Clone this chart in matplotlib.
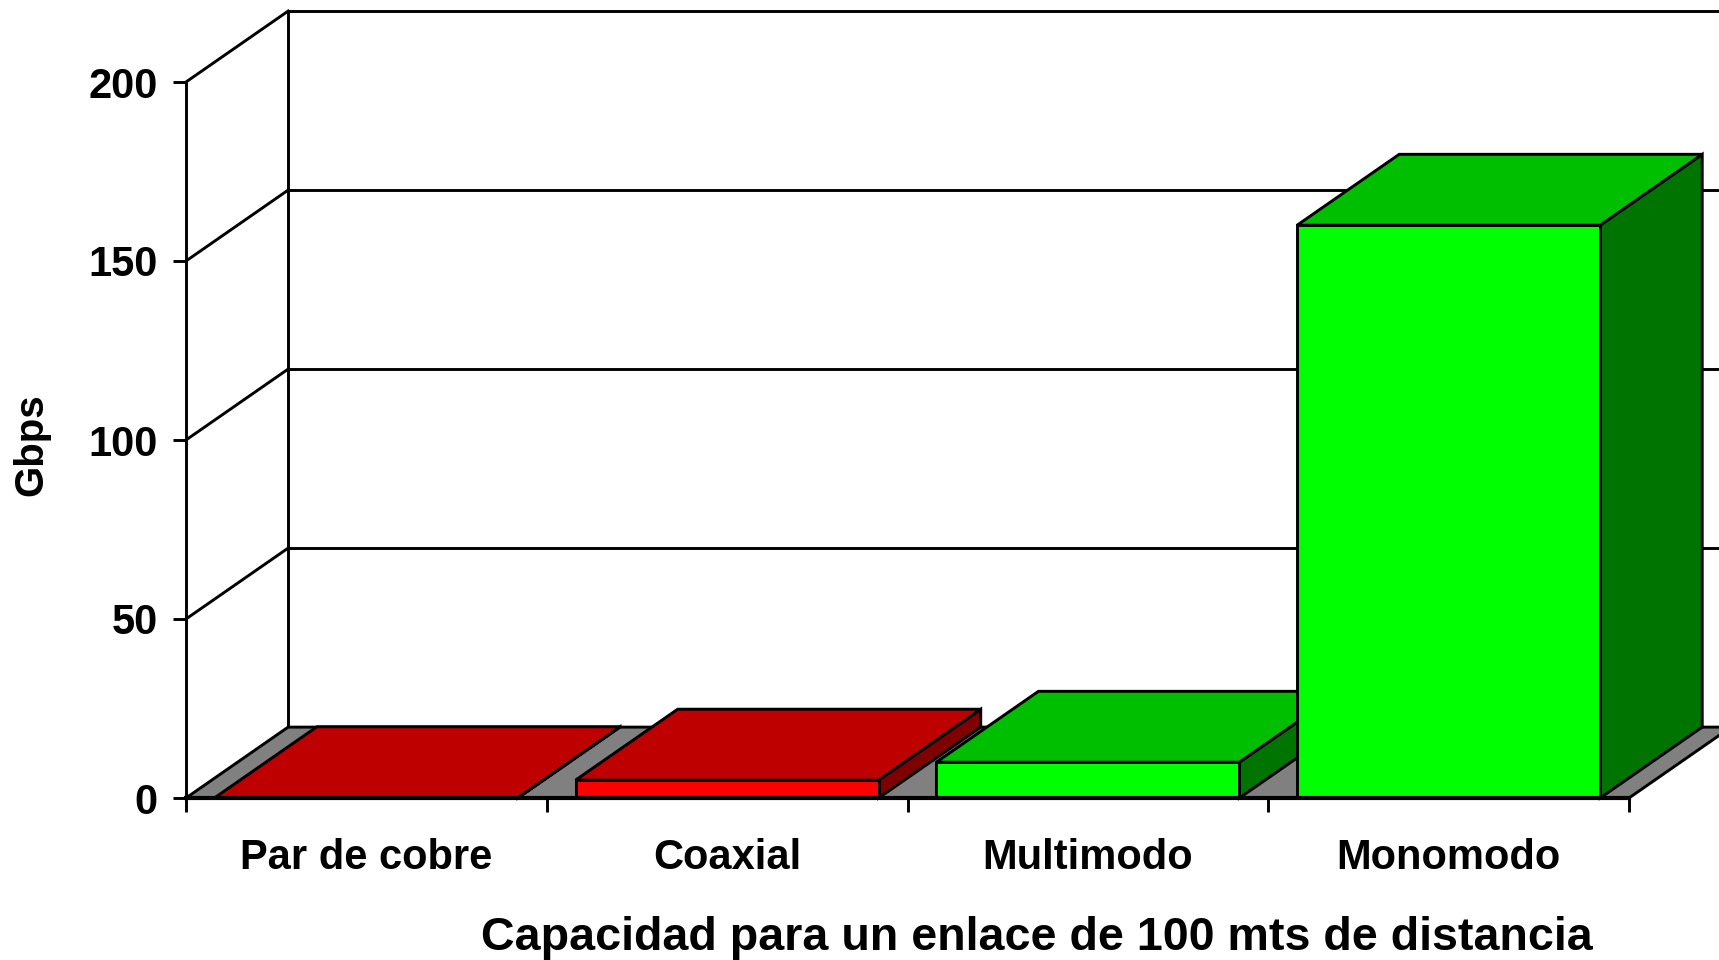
import matplotlib.pyplot as plt
from matplotlib.patches import Polygon

# Datos
categorias = ['Par de cobre', 'Coaxial', 'Multimodo', 'Monomodo']
gbps = [0.1, 5, 10, 160]
familia = ['rojo', 'rojo', 'verde', 'verde']
ticks_y = [0, 50, 100, 150, 200]

# colores de las caras: frente, arriba, lado
caras = {'rojo': ('#ff0000', '#bf0000', '#800000'),
         'verde': ('#00ff00', '#00bf00', '#007400')}

dx, dy = 0.283, 19.8  # profundidad del efecto 3D (unidades de datos)
ancho = 0.84
lw = 2.1

plt.rcParams['font.family'] = ['Liberation Sans', 'DejaVu Sans']
plt.rcParams['font.weight'] = 'bold'

fig = plt.figure(figsize=(17.19, 9.6), dpi=100)
ax = fig.add_axes([186 / 1719, 162 / 960, 1443 / 1719, 716 / 960])
n = len(categorias)
ax.set_xlim(0, n)
ax.set_ylim(0, ticks_y[-1])
ax.patch.set_visible(False)

# paredes: lineas de division en la pared lateral y del fondo
xmax = n + dx + 0.3
for v in ticks_y[1:]:
    ax.plot([0, dx], [v, v + dy], color='black', lw=lw, clip_on=False, zorder=0.5)
    ax.plot([dx, xmax], [v + dy, v + dy], color='black', lw=lw, clip_on=False, zorder=0.5)
ax.plot([dx, dx], [dy, ticks_y[-1] + dy], color='black', lw=lw, clip_on=False, zorder=0.5)

# piso
piso = Polygon([(0, 0), (n, 0), (n + dx, dy), (dx, dy)], closed=True,
               facecolor='#808080', edgecolor='black', lw=lw, clip_on=False, zorder=0.8)
ax.add_patch(piso)

# barras
for i, v in enumerate(gbps):
    frente, arriba, lado = caras[familia[i]]
    x0 = i + (1 - ancho) / 2
    x1 = x0 + ancho
    cara_lado = [(x1, 0), (x1 + dx, dy), (x1 + dx, v + dy), (x1, v)]
    cara_arriba = [(x0, v), (x1, v), (x1 + dx, v + dy), (x0 + dx, v + dy)]
    cara_frente = [(x0, 0), (x1, 0), (x1, v), (x0, v)]
    for pts, c in [(cara_lado, lado), (cara_arriba, arriba), (cara_frente, frente)]:
        ax.add_patch(Polygon(pts, closed=True, facecolor=c, edgecolor='black',
                             lw=lw, joinstyle='miter', clip_on=False, zorder=1 + i * 0.1))

# ejes
for s in ['top', 'right']:
    ax.spines[s].set_visible(False)
ax.spines['left'].set_linewidth(lw)
ax.spines['bottom'].set_linewidth(3)
ax.spines['bottom'].set_zorder(3)

ax.set_yticks(ticks_y)
ax.tick_params(axis='y', length=9.5, width=lw, pad=11, labelsize=30)
ax.set_xticks(range(n + 1))
ax.set_xticklabels([])
ax.tick_params(axis='x', which='major', length=10, width=lw)
ax.set_xticks([i + 0.5 for i in range(n)], minor=True)
ax.set_xticklabels(categorias, minor=True)
ax.tick_params(axis='x', which='minor', length=0, pad=29, labelsize=30)

ax.set_ylabel('Gbps', fontsize=29, fontweight='bold', va='center')
ax.yaxis.set_label_coords(-0.107, 0.494)
ax.set_xlabel('Capacidad para un enlace de 100 mts de distancia', fontsize=33.6,
              fontweight='bold', va='center')
ax.xaxis.set_label_coords(0.59, -0.195)

fig.savefig('out.png', dpi=100)
